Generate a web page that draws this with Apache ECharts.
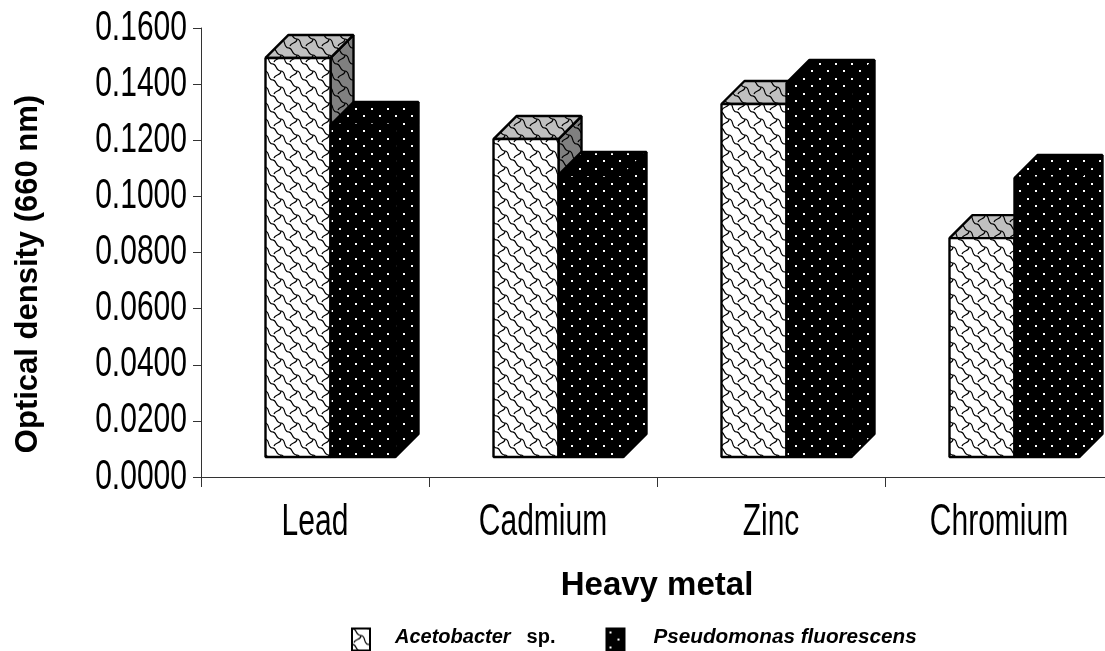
<!DOCTYPE html>
<html>
<head>
<meta charset="utf-8">
<title>Optical density by heavy metal</title>
<script src="https://cdn.jsdelivr.net/npm/echarts@6/dist/echarts.min.js"></script>
<style>
  html, body { margin: 0; padding: 0; background: #fff; overflow: hidden; width: 1105px; height: 651px; }
  /* the x axis runs past the right edge of the page in the original */
  #chart { width: 1130px; height: 651px; }
</style>
</head>
<body>
<div id="chart"></div>
<script>
const metals = ['Lead', 'Cadmium', 'Zinc', 'Chromium'];
const acetobacter = [0.1422, 0.1133, 0.1258, 0.0780];
const pseudomonas = [0.1183, 0.1005, 0.1333, 0.0994];
const yTicks = [0, 0.02, 0.04, 0.06, 0.08, 0.1, 0.12, 0.14, 0.16];

const arial = '"Liberation Sans", Arial, sans-serif';

// shingle fill, bg changes for the top and side faces
function scalePattern(bg) {
  const c = document.createElement('canvas');
  c.width = 16; c.height = 16;
  const g = c.getContext('2d');
  g.fillStyle = bg;
  g.fillRect(0, 0, 16, 16);
  g.strokeStyle = '#000';
  g.lineWidth = 1.2;
  for (let dx = -16; dx <= 16; dx += 16) {
    for (let dy = -16; dy <= 16; dy += 16) {
      g.beginPath();
      g.moveTo(dx, dy);
      g.bezierCurveTo(dx + 5, dy - 1, dx + 3, dy + 7, dx + 9, dy + 7);
      g.bezierCurveTo(dx + 14, dy + 7, dx + 11, dy + 15, dx + 16, dy + 16);
      g.stroke();
      g.beginPath();
      g.moveTo(dx + 9, dy + 7);
      g.bezierCurveTo(dx + 9, dy + 12, dx + 3, dy + 10, dx + 2, dy + 14);
      g.stroke();
    }
  }
  return { image: c, repeat: 'repeat' };
}

function dotPattern() {
  const c = document.createElement('canvas');
  c.width = 16; c.height = 15;
  const g = c.getContext('2d');
  g.fillStyle = '#000';
  g.fillRect(0, 0, 16, 15);
  g.fillStyle = '#fff';
  g.fillRect(3, 3, 2, 2);
  g.fillRect(11, 10, 2, 2);
  return { image: c, repeat: 'repeat' };
}

const scaleFront = scalePattern('#fff');
const scaleTop = scalePattern('#c0c0c0');
const scaleSide = scalePattern('#808080');
const dots = dotPattern();

const barW = 65;
const depth = 23;
const lift = 20;

function bar3d(offset, front, top, side) {
  return function (params, api) {
    const cat = api.value(0);
    const p = api.coord([cat, api.value(1)]);
    const zero = api.coord([cat, 0]);
    const x0 = p[0] + offset;
    const x1 = x0 + barW;
    const yt = p[1] - lift;
    const yb = zero[1] - lift;
    const edge = { stroke: '#000', lineWidth: 2.4, lineJoin: 'bevel' };
    return {
      type: 'group',
      children: [
        {
          type: 'polygon',
          shape: { points: [[x1, yb], [x1 + depth, yb - depth], [x1 + depth, yt - depth], [x1, yt]] },
          style: Object.assign({ fill: side }, edge)
        },
        {
          type: 'polygon',
          shape: { points: [[x0, yt], [x0 + depth, yt - depth], [x1 + depth, yt - depth], [x1, yt]] },
          style: Object.assign({ fill: top }, edge)
        },
        {
          type: 'rect',
          shape: { x: x0, y: yt, width: barW, height: yb - yt },
          style: Object.assign({ fill: front }, edge)
        }
      ]
    };
  };
}

// no narrow font installed, so the tick labels are a squeezed regular face
function yLabel(params, api) {
  const p = api.coord([0, api.value(0)]);
  return {
    type: 'text',
    x: p[0] - api.size([1, 0])[0] / 2 - 14,
    y: p[1],
    scaleX: 0.715,
    style: {
      text: yTicks[params.dataIndex].toFixed(4),
      fontFamily: arial, fontSize: 42, fill: '#000',
      align: 'right', verticalAlign: 'middle'
    }
  };
}

function xLabel(params, api) {
  const p = api.coord([api.value(0), 0]);
  return {
    type: 'text',
    x: p[0],
    y: p[1] + 46,
    scaleX: 0.682,
    style: {
      text: metals[params.dataIndex],
      fontFamily: arial, fontSize: 44, fill: '#000',
      align: 'center', verticalAlign: 'middle'
    }
  };
}

const chart = echarts.init(document.getElementById('chart'), null, { renderer: 'canvas' });
chart.setOption({
  animation: false,
  backgroundColor: '#fff',
  grid: { left: 201, top: 28, width: 912, height: 449, containLabel: false },
  xAxis: {
    type: 'category',
    data: metals,
    boundaryGap: true,
    name: 'Heavy metal',
    nameLocation: 'middle',
    nameGap: 92,
    nameTextStyle: { fontFamily: arial, fontWeight: 'bold', fontSize: 33, color: '#000' },
    axisLine: { lineStyle: { color: '#333', width: 1 } },
    axisTick: { show: true, alignWithLabel: false, length: 10, lineStyle: { color: '#333' } },
    axisLabel: { show: false }
  },
  yAxis: {
    type: 'value',
    min: yTicks[0],
    max: yTicks[yTicks.length - 1],
    interval: 0.02,
    name: 'Optical density (660 nm)',
    nameLocation: 'middle',
    nameGap: 157,
    nameTextStyle: { fontFamily: arial, fontWeight: 'bold', fontSize: 31, color: '#000', padding: [0, 43, 0, 0] },
    splitLine: { show: false },
    axisLine: { show: true, lineStyle: { color: '#333', width: 1 } },
    axisTick: { show: true, length: 8, lineStyle: { color: '#333' } },
    axisLabel: { show: false }
  },
  legend: {
    left: 346,
    top: 622,
    itemWidth: 18,
    itemHeight: 22,
    itemGap: 50,
    icon: 'rect',
    data: ['Acetobacter sp.', 'Pseudomonas fluorescens'],
    formatter: name => {
      if (name === 'Acetobacter sp.') return '{i|Acetobacter}{b|sp.}';
      return '{p|' + name + '}';
    },
    textStyle: {
      rich: {
        i: { fontFamily: arial, fontStyle: 'italic', fontWeight: 'bold', fontSize: 20, color: '#000', padding: [0, 0, 4, 20] },
        b: { fontFamily: arial, fontWeight: 'bold', fontSize: 20, color: '#000', padding: [0, 0, 4, 16] },
        p: { fontFamily: arial, fontStyle: 'italic', fontWeight: 'bold', fontSize: 20.7, color: '#000', padding: [0, 0, 4, 24] }
      }
    }
  },
  series: [
    {
      name: 'Acetobacter sp.',
      type: 'custom',
      renderItem: bar3d(-49.5, scaleFront, scaleTop, scaleSide),
      encode: { x: 0, y: 1 },
      data: acetobacter.map((v, i) => [i, v]),
      itemStyle: { color: scaleFront, borderColor: '#000', borderWidth: 2 },
      clip: false
    },
    {
      name: 'Pseudomonas fluorescens',
      type: 'custom',
      renderItem: bar3d(15.5, dots, dots, dots),
      encode: { x: 0, y: 1 },
      data: pseudomonas.map((v, i) => [i, v]),
      itemStyle: { color: dots, borderColor: '#000', borderWidth: 2 },
      clip: false
    },
    {
      name: 'y labels',
      type: 'custom',
      renderItem: yLabel,
      encode: { y: 0 },
      data: yTicks.map(v => [v]),
      silent: true,
      clip: false
    },
    {
      name: 'x labels',
      type: 'custom',
      renderItem: xLabel,
      encode: { x: 0 },
      data: metals.map((m, i) => [i]),
      silent: true,
      clip: false
    }
  ]
});
</script>
</body>
</html>
